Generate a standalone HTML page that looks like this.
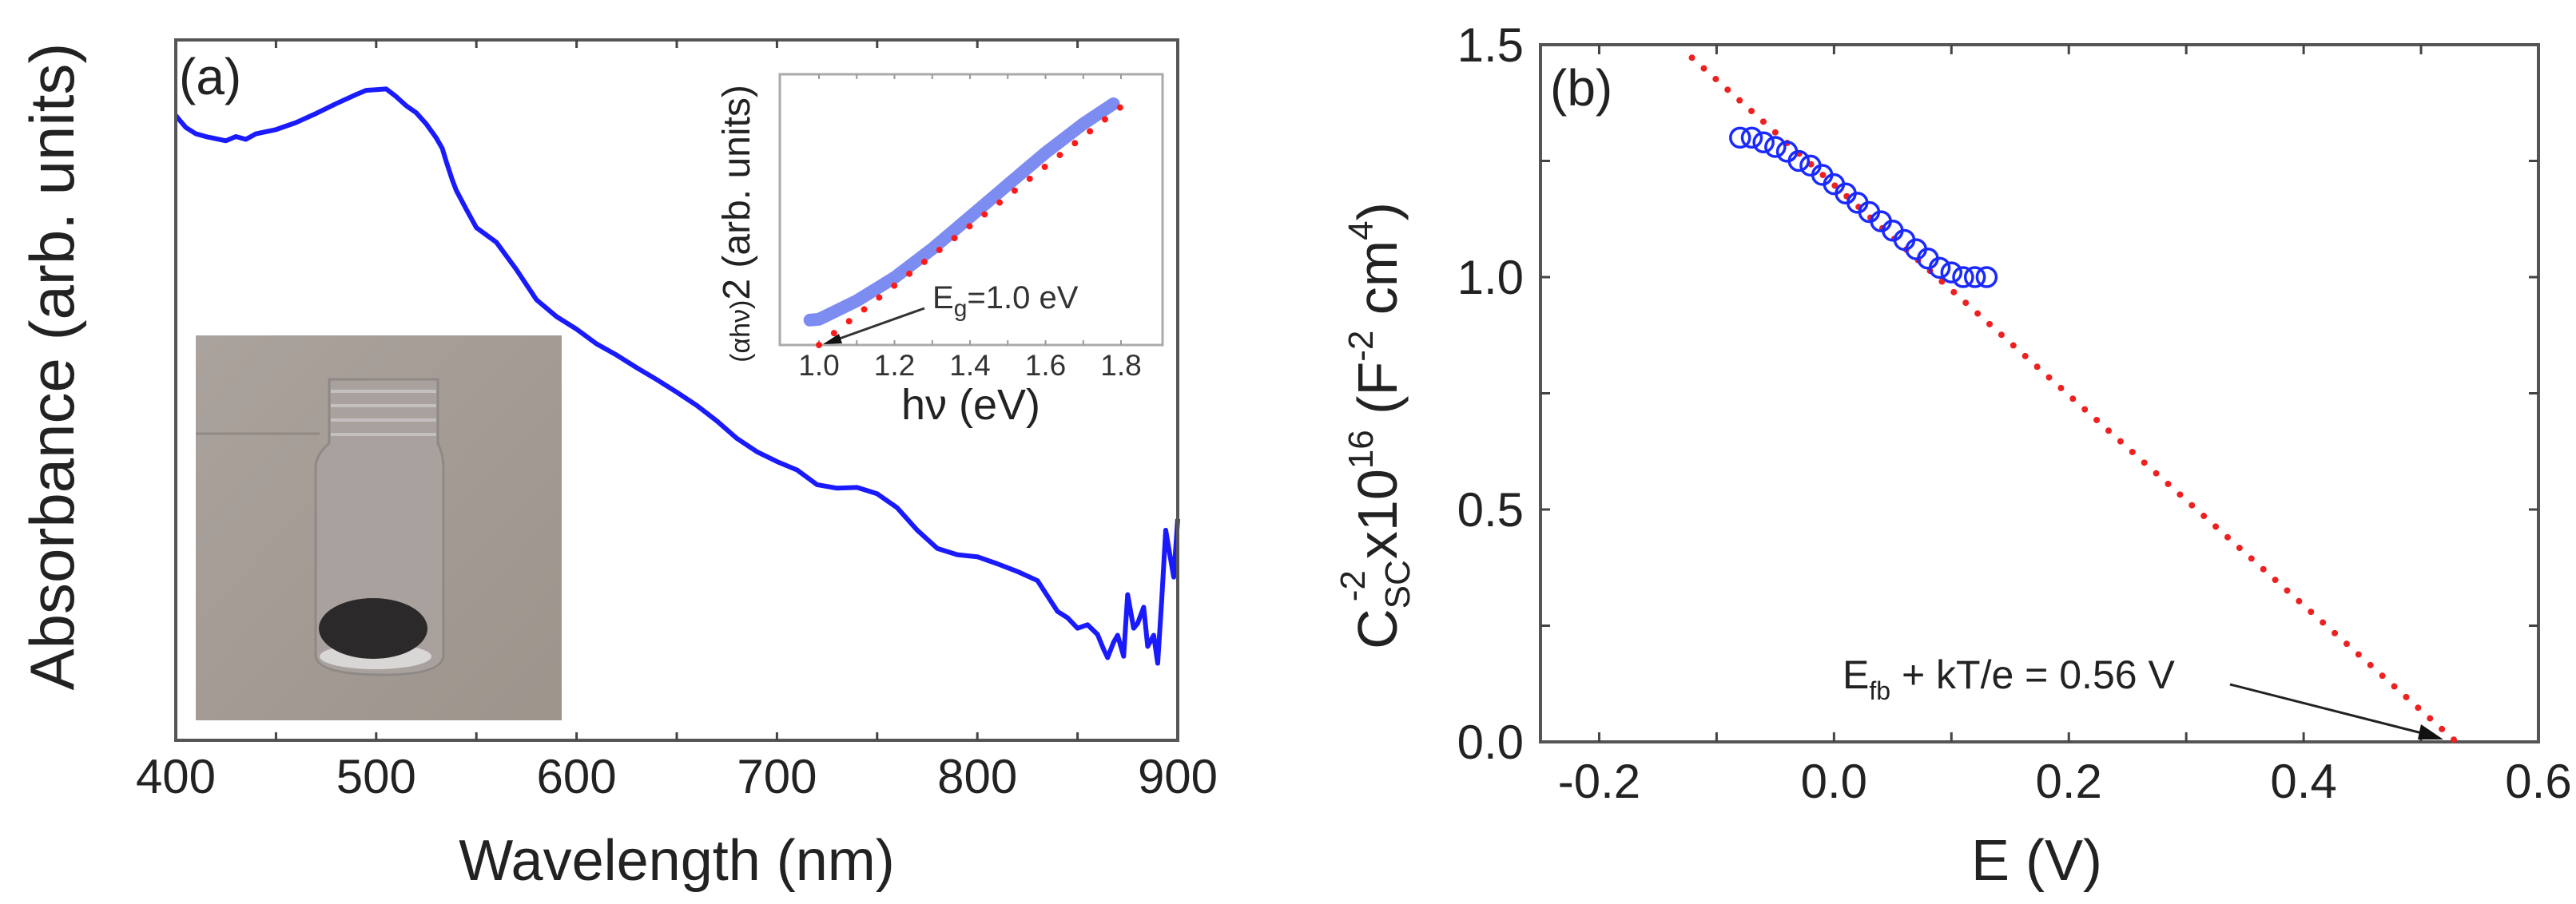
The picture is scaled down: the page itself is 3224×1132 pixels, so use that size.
<!DOCTYPE html>
<html><head><meta charset="utf-8"><style>
html,body{margin:0;padding:0;background:#fff;}
svg{display:block;font-family:"Liberation Sans",Arial,sans-serif;}
</style></head><body>
<svg id="fig" width="3224" height="1132" viewBox="0 0 3224 1132" xmlns="http://www.w3.org/2000/svg">
<defs>
<linearGradient id="bg" x1="0" y1="0" x2="1" y2="1"><stop offset="0" stop-color="#aaa29c"/><stop offset="1" stop-color="#9d948c"/></linearGradient>
</defs>
<g id="pa"></g>
<g id="pb"></g>
</svg>
<script>
// ---------- Panel (a) data ----------
const absWavelength = [400,405,410,415,420,425,430,435,440,450,460,470,480,490,495,500,505,510,515,520,525,530,533,535,538,540,545,550,560,570,580,590,600,610,620,630,640,650,660,670,680,690,700,710,720,730,740,750,760,770,780,790,800,810,820,830,840,845,850,855,860,863,865,868,870,873,875,878,880,883,885,888,890,892,894,896,898,900];
const absValues = [0.892,0.875,0.866,0.862,0.859,0.856,0.862,0.858,0.866,0.872,0.882,0.895,0.909,0.922,0.928,0.929,0.930,0.919,0.906,0.896,0.880,0.860,0.845,0.826,0.800,0.785,0.758,0.732,0.711,0.672,0.629,0.605,0.587,0.566,0.550,0.532,0.515,0.497,0.478,0.456,0.431,0.412,0.398,0.386,0.365,0.360,0.361,0.352,0.332,0.300,0.274,0.265,0.262,0.252,0.241,0.228,0.184,0.175,0.160,0.165,0.151,0.130,0.118,0.140,0.150,0.120,0.208,0.160,0.167,0.190,0.134,0.150,0.110,0.200,0.300,0.266,0.233,0.316];
const xTicksA = [400,500,600,700,800,900];
const insetX = [0.976,1.0,1.1,1.2,1.3,1.4,1.5,1.6,1.7,1.78];
const insetY = [0.092,0.095,0.163,0.249,0.355,0.473,0.592,0.710,0.817,0.891];
const insetFitX = [1.0,1.8];
const insetFitY = [0.0,0.88];
const insetTicks = [1.0,1.2,1.4,1.6,1.8];
// ---------- Panel (b) data ----------
const bE = [-0.08,-0.07,-0.06,-0.05,-0.04,-0.03,-0.02,-0.01,0.00,0.01,0.02,0.03,0.04,0.05,0.06,0.07,0.08,0.09,0.10,0.11,0.12,0.13];
const bC = [1.30,1.30,1.29,1.28,1.27,1.25,1.24,1.22,1.20,1.18,1.16,1.14,1.12,1.10,1.08,1.06,1.04,1.02,1.01,1.00,1.00,1.00];
const fitE = [-0.121,0.53];
const fitC = [1.472,0.0];
const xTicksB = [-0.2,0.0,0.2,0.4,0.6];
const yTicksB = [0.0,0.5,1.0,1.5];

const NS="http://www.w3.org/2000/svg";
function mk(parent,tag,attrs,text){const e=document.createElementNS(NS,tag);for(const k in attrs)e.setAttribute(k,attrs[k]);if(text!==undefined)e.textContent=text;parent.appendChild(e);return e;}

// ===== Panel a =====
const pa=document.getElementById('pa');
const A={l:220,r:1474,t:50,b:927};
const xa=v=>A.l+(v-400)/500*(A.r-A.l);
const ya=v=>A.b-v*(A.b-A.t);
const photo=mk(pa,'g',{});


mk(photo,'rect',{x:245,y:420,width:458,height:482,fill:'url(#bg)'});
mk(photo,'line',{x1:245,y1:543,x2:400,y2:543,stroke:'#918983','stroke-width':3});
mk(photo,'path',{d:'M412,475 L548,475 L548,555 Q555,570 555,585 L555,820 Q555,845 480,845 Q395,845 395,820 L395,585 Q395,570 412,555 Z',fill:'#a8a19d',stroke:'#8f8986','stroke-width':3});
for(let i=0;i<4;i++)mk(photo,'line',{x1:414,y1:490+i*18,x2:546,y2:490+i*18,stroke:'#d8d6d6','stroke-width':4,opacity:0.6});
mk(photo,'ellipse',{cx:470,cy:822,rx:70,ry:16,fill:'#d9d7d6'});
mk(photo,'ellipse',{cx:467,cy:787,rx:68,ry:38,fill:'#2b2929'});
// inset plot
const I={l:976,r:1455,t:93,b:432};
const xi=v=>1025+(v-1.0)/0.8*(1403-1025);
const yi=v=>I.b-v*(I.b-I.t);
mk(pa,'rect',{x:I.l,y:I.t,width:I.r-I.l,height:I.b-I.t,fill:'#fff',stroke:'#aaa','stroke-width':3});
for(let v=1.0;v<=1.81;v+=0.1){const x=xi(v);mk(pa,'line',{x1:x,y1:I.b,x2:x,y2:I.b-6,stroke:'#999','stroke-width':2});mk(pa,'line',{x1:x,y1:I.t,x2:x,y2:I.t+6,stroke:'#999','stroke-width':2});}
insetTicks.forEach(v=>{const t=mk(pa,'text',{x:xi(v),y:470,'font-size':37,'text-anchor':'middle',fill:'#333'},v.toFixed(1));});
const il=mk(pa,'text',{x:1215,y:525,'font-size':54,'text-anchor':'middle',fill:'#222'},'hν (eV)');

const iyl=mk(pa,'text',{x:0,y:0,'font-size':48,'text-anchor':'middle',fill:'#222',transform:'translate(938,280) rotate(-90)'});

mk(iyl,'tspan',{'font-size':34},'(αhν)');mk(iyl,'tspan',{},'2 (arb. units)');
const band=mk(pa,'polyline',{points:insetX.map((v,i)=>xi(v)+','+yi(insetY[i])).join(' '),fill:'none',stroke:'#6f7ff0','stroke-width':16,'stroke-linecap':'round','stroke-linejoin':'round',opacity:0.9});

const ifit=mk(pa,'line',{x1:xi(insetFitX[0]),y1:yi(insetFitY[0]),x2:xi(insetFitX[1]),y2:yi(insetFitY[1]),stroke:'#ff1a1a','stroke-width':8,'stroke-dasharray':'0 24','stroke-linecap':'round'});

mk(pa,'line',{x1:1157,y1:386,x2:1045,y2:426,stroke:'#333','stroke-width':3});
mk(pa,'polygon',{points:'1030,431 1050,418 1054,430',fill:'#111'});
const eg=mk(pa,'text',{x:1167,y:386,'font-size':40,fill:'#333'});

mk(eg,'tspan',{},'E');mk(eg,'tspan',{'font-size':30,dy:10},'g');mk(eg,'tspan',{dy:-10},'=1.0 eV');
const spec=mk(pa,'polyline',{points:absWavelength.map((w,i)=>xa(w)+','+ya(absValues[i])).join(' '),fill:'none',stroke:'#1a1aff','stroke-width':6,'stroke-linejoin':'round'});

const fa=mk(pa,'rect',{x:A.l,y:A.t,width:A.r-A.l,height:A.b-A.t,fill:'none',stroke:'#555','stroke-width':4});

for(let w=450;w<900;w+=50){const x=xa(w);mk(pa,'line',{x1:x,y1:A.b,x2:x,y2:A.b-10,stroke:'#444','stroke-width':3});mk(pa,'line',{x1:x,y1:A.t,x2:x,y2:A.t+10,stroke:'#444','stroke-width':3});}
xTicksA.forEach(v=>{const t=mk(pa,'text',{x:xa(v),y:993,'font-size':60,'text-anchor':'middle',fill:'#222'},String(v));});
const xta=mk(pa,'text',{x:847,y:1102,'font-size':72,'text-anchor':'middle',fill:'#222'},'Wavelength (nm)');

const yta=mk(pa,'text',{x:0,y:0,'font-size':78,'text-anchor':'middle',fill:'#222',transform:'translate(92,459) rotate(-90)'},'Absorbance (arb. units)');

const la=mk(pa,'text',{x:224,y:118,'font-size':64,fill:'#222'},'(a)');


// ===== Panel b =====
const pb=document.getElementById('pb');
const B={l:1928,r:3177,t:56,b:929};
const xb=v=>B.l+(v+0.25)/0.85*(B.r-B.l);
const yb=v=>B.b-v/1.5*(B.b-B.t);
const fb=mk(pb,'rect',{x:B.l,y:B.t,width:B.r-B.l,height:B.b-B.t,fill:'none',stroke:'#555','stroke-width':4});

for(let v=-0.2;v<0.59;v+=0.1){const x=xb(v);mk(pb,'line',{x1:x,y1:B.b,x2:x,y2:B.b-12,stroke:'#444','stroke-width':3});mk(pb,'line',{x1:x,y1:B.t,x2:x,y2:B.t+12,stroke:'#444','stroke-width':3});}
for(let v=0.25;v<1.5;v+=0.25){const y=yb(v);mk(pb,'line',{x1:B.l,y1:y,x2:B.l+12,y2:y,stroke:'#444','stroke-width':3});mk(pb,'line',{x1:B.r,y1:y,x2:B.r-12,y2:y,stroke:'#444','stroke-width':3});}
xTicksB.forEach(v=>{const t=mk(pb,'text',{x:xb(v),y:999,'font-size':60,'text-anchor':'middle',fill:'#222'},v.toFixed(1));});
yTicksB.forEach(v=>{const t=mk(pb,'text',{x:1907,y:yb(v)+21,'font-size':60,'text-anchor':'end',fill:'#222'},v.toFixed(1));});
const xtb=mk(pb,'text',{x:2549,y:1102,'font-size':72,'text-anchor':'middle',fill:'#222'},'E (V)');

const ytb=mk(pb,'text',{x:0,y:0,'font-size':70,'text-anchor':'middle',fill:'#222',transform:'translate(1748,533) rotate(-90)'});

mk(ytb,'tspan',{},'C');mk(ytb,'tspan',{'font-size':44,dy:16},'SC');mk(ytb,'tspan',{'font-size':44,dy:-56,dx:-52},'-2');mk(ytb,'tspan',{dy:40,dx:14},'x10');mk(ytb,'tspan',{'font-size':44,dy:-30},'16');mk(ytb,'tspan',{dy:30},' (F');mk(ytb,'tspan',{'font-size':44,dy:-30},'-2');mk(ytb,'tspan',{dy:30},' cm');mk(ytb,'tspan',{'font-size':44,dy:-30},'4');mk(ytb,'tspan',{dy:30},')');
const fit=mk(pb,'line',{x1:xb(fitE[0]),y1:yb(fitC[0]),x2:xb(fitE[1]),y2:yb(fitC[1]),stroke:'#ee2020','stroke-width':8,'stroke-dasharray':'0 20','stroke-linecap':'round'});

bE.forEach((e,i)=>{const c=mk(pb,'circle',{cx:xb(e),cy:yb(bC[i]),r:12,fill:'none',stroke:'#1a2aff','stroke-width':3.5});

});
const ann=mk(pb,'text',{x:2306,y:862,'font-size':50,fill:'#222'});

mk(ann,'tspan',{},'E');mk(ann,'tspan',{'font-size':32,dy:14},'fb');mk(ann,'tspan',{dy:-14},' + kT/e = 0.56 V');
mk(pb,'line',{x1:2791,y1:857,x2:3035,y2:919,stroke:'#222','stroke-width':3});
mk(pb,'polygon',{points:'3058,926 3030,907 3026,926',fill:'#111'});
const lb=mk(pb,'text',{x:1940,y:132,'font-size':64,fill:'#222'},'(b)');

</script>
</body></html>
